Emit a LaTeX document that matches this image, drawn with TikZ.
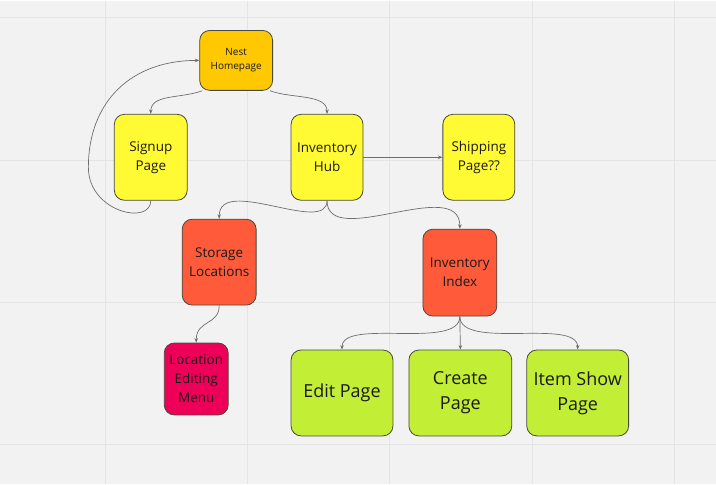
\documentclass[tikz,border=0pt]{standalone}
\usepackage{fontspec}
\setmainfont{Open Sans}
\usepackage{xcolor}
\usetikzlibrary{arrows.meta}

\definecolor{boardgray}{HTML}{F2F2F2}
\definecolor{gridgray}{HTML}{E4E4E4}
\definecolor{pageline}{HTML}{4A4A3A}
\definecolor{pagetext}{HTML}{1A1A1A}
\definecolor{linkgray}{HTML}{6E6E6E}
\definecolor{homeorange}{HTML}{FFC800}
\definecolor{hubyellow}{HTML}{FFFA33}
\definecolor{indexred}{HTML}{FF5A3A}
\definecolor{menupink}{HTML}{EE0058}
\definecolor{crudgreen}{HTML}{C2EE35}

\begin{document}
\begin{tikzpicture}[x=1pt,y=-1pt,
                page/.style={draw=pageline, line width=0.8pt, rounded corners=10pt,
                        align=center, inner sep=0pt, text=pagetext},
                tiny/.style={font=\fontsize{10}{14}\selectfont},
                mid/.style={font=\fontsize{13.5}{19}\selectfont},
                big/.style={font=\fontsize{18}{25}\selectfont},
                link/.style={draw=linkgray, line width=0.7pt,
                        -{Stealth[length=4.5pt,width=3.5pt]}}]
                % board with grid
                \fill[boardgray] (0,0) rectangle (716,484);
                \foreach \gx in {105,247.5,390,532.5,675}
                        \draw[gridgray, line width=1pt] (\gx,0) -- (\gx,484);
                \foreach \gy in {17,160,302,445}
                        \draw[gridgray, line width=1pt] (0,\gy) -- (716,\gy);

                % pages
                \node[page, tiny, fill=homeorange, minimum width=73pt, minimum height=60pt]
                        (home) at (236,60) {Nest\\Homepage};
                \node[page, mid, fill=hubyellow, minimum width=73pt, minimum height=86pt]
                        (signup) at (150.5,157) {Signup\\Page};
                \node[page, mid, fill=hubyellow, minimum width=72pt, minimum height=86pt]
                        (hub) at (327,157) {Inventory\\Hub};
                \node[page, mid, fill=hubyellow, minimum width=72pt, minimum height=86pt]
                        (shipping) at (479,157) {Shipping\\Page??};
                \node[page, mid, fill=indexred, minimum width=74pt, minimum height=86pt]
                        (storage) at (219,262) {Storage\\Locations};
                \node[page, mid, fill=menupink, minimum width=64pt, minimum height=72pt]
                        (locmenu) at (196,379) {Location\\Editing\\Menu};
                \node[page, mid, fill=indexred, minimum width=74pt, minimum height=87pt]
                        (index) at (460,272.5) {Inventory\\Index};
                \node[page, big, fill=crudgreen, minimum width=102pt, minimum height=86pt]
                        (edit) at (342,393) {Edit Page};
                \node[page, big, fill=crudgreen, minimum width=103pt, minimum height=86pt]
                        (create) at (460.5,393) {Create\\Page};
                \node[page, big, fill=crudgreen, minimum width=102pt, minimum height=86pt]
                        (show) at (578,393) {Item Show\\Page};

                % links
                \draw[link] ([xshift=3pt]home.south west) .. controls +(-22,8) and +(0,-20) .. (signup.north);
                \draw[link] ([xshift=-3pt]home.south east) .. controls +(22,8) and +(0,-20) .. (hub.north);
                \draw[link] (signup.south) .. controls +(0,25) and +(0,45) .. (88,167)
                        .. controls +(0,-66) and +(-68,0) .. (home.west);
                \draw[link] (hub.south) .. controls +(0,35) and +(0,-44) .. (storage.north);
                \draw[link] (hub.south) .. controls +(0,50) and +(0,-54) .. (index.north);
                \draw[link] (hub.east) -- (shipping.west);
                \draw[link] (storage.south) .. controls +(0,20) and +(0,-23) .. (locmenu.north);
                \draw[link] (index.south) .. controls +(0,34) and +(0,-32) .. (edit.north);
                \draw[link] (index.south) -- (create.north);
                \draw[link] (index.south) .. controls +(0,34) and +(0,-32) .. (show.north);
\end{tikzpicture}
\end{document}
